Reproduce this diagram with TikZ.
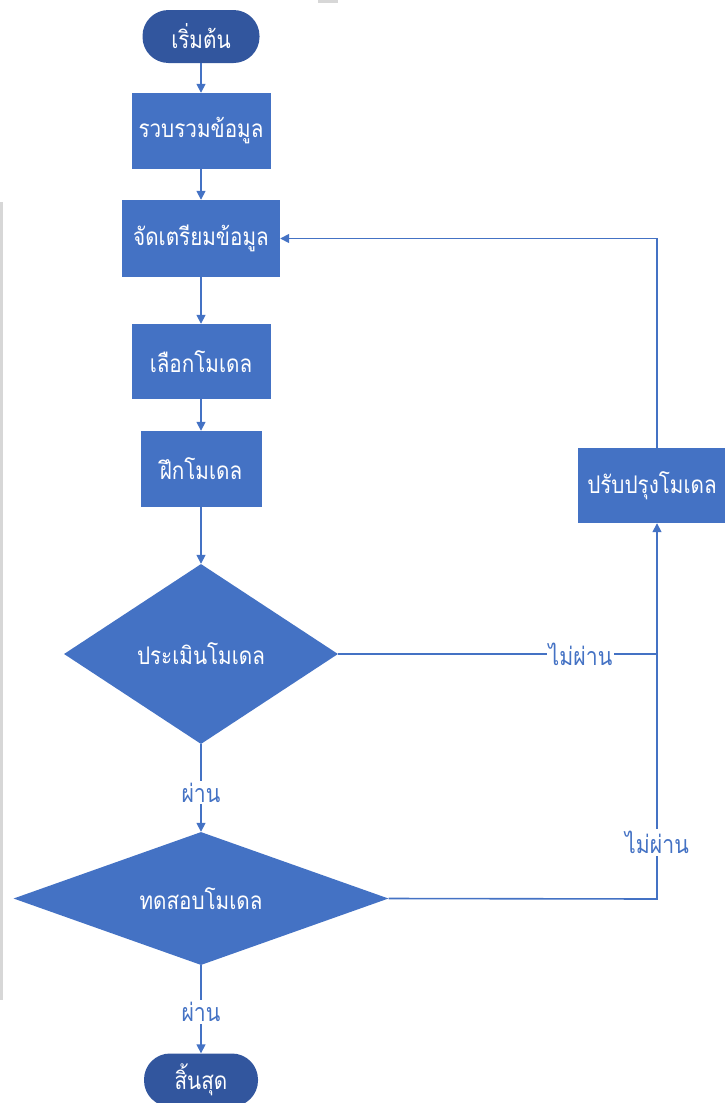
\documentclass[tikz,border=0pt]{standalone}
\usepackage{fontspec}
\newfontfamily\thaifont[Script=Thai, FakeStretch=0.85]{Loma}
\usetikzlibrary{shapes.geometric,arrows.meta}
\definecolor{boxblue}{RGB}{68,114,196}
\definecolor{termblue}{RGB}{50,86,158}
\definecolor{edgegray}{RGB}{215,215,215}
\begin{document}
\begin{tikzpicture}[x=1pt,y=-1pt,
  font=\thaifont\fontsize{24.3}{28}\selectfont,
  stepbox/.style={rectangle, fill=boxblue, text=white, inner sep=0pt},
  terminal/.style={rectangle, rounded corners=26pt, fill=termblue, text=white,
    minimum width=117pt, minimum height=53pt, inner sep=0pt},
  decision/.style={diamond, fill=boxblue, text=white, inner sep=0pt},
  flow/.style={draw=boxblue, line width=1.6pt},
  arrow/.style={flow, -{Triangle[length=9pt,width=9pt]}},
  lbl/.style={fill=white, text=boxblue, inner sep=2pt, font=\thaifont\fontsize{25}{28}\selectfont}]
\useasboundingbox (0,0) rectangle (725,1103);
\clip (0,0) rectangle (725,1103);

% page edge marks
\fill[edgegray] (0,202) rectangle (2.5,1000);
\fill[edgegray] (318,0) rectangle (338,3);

% main column
\node[terminal] (start) at (201,36.5) {เริ่มต้น};
\node[stepbox, minimum width=139pt, minimum height=76pt] (collect) at (201,131) {รวบรวมข้อมูล};
\node[stepbox, minimum width=158pt, minimum height=77pt] (prep) at (201,238.5) {จัดเตรียมข้อมูล};
\node[stepbox, minimum width=139pt, minimum height=75pt] (select) at (201,361.5) {เลือกโมเดล};
\node[stepbox, minimum width=121pt, minimum height=76pt] (train) at (201,469) {ฝึกโมเดล};
\node[decision, shape aspect=1.5, minimum width=274pt, minimum height=180pt] (eval) at (201,654) {ประเมินโมเดล};
\node[decision, shape aspect=2.8, minimum width=375pt, minimum height=133pt] (test) at (201,898.5) {ทดสอบโมเดล};
\node[terminal, minimum width=114pt] (end) at (201,1080) {สิ้นสุด};

% feedback box
\node[stepbox, minimum width=148pt, minimum height=75pt] (improve) at (652,485.5) {ปรับปรุงโมเดล};

% junctions on the return line
\coordinate (j1) at (657,654);
\coordinate (j2) at (657,899);

% downward flow
\draw[arrow] (start.south) -- (collect.north);
\draw[arrow] (collect.south) -- (prep.north);
\draw[arrow] (prep.south) -- (select.north);
\draw[arrow] (select.south) -- (train.north);
\draw[arrow] (train.south) -- (eval.north);
\draw[arrow] (eval.south) -- node[lbl, pos=0.55] {ผ่าน} (test.north);
\draw[arrow] (test.south) -- node[lbl, pos=0.53] {ผ่าน} (end.north);

% failure branches
\draw[flow] (eval.east) -- node[lbl, pos=0.76] {ไม่ผ่าน} (j1);
\draw[arrow] (test.east) -- (j2) -- node[lbl, pos=0.15] {ไม่ผ่าน} (improve.south -| j2);

% back to data preparation
\draw[arrow] (improve.north -| j2) |- (prep.east);
\end{tikzpicture}
\end{document}
